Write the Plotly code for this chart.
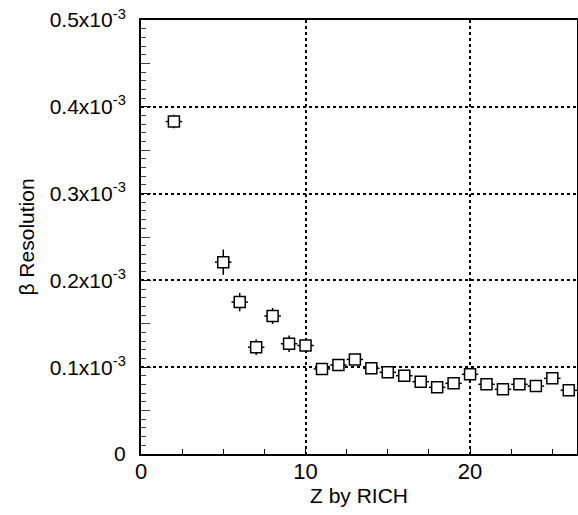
import plotly.graph_objects as go

# Data (beta resolution in units of 1e-3)
z_values = [2, 5, 6, 7, 8, 9, 10, 11, 12, 13, 14, 15, 16, 17, 18, 19, 20, 21, 22, 23, 24, 25, 26]
resolution = [0.383, 0.221, 0.175, 0.123, 0.159, 0.127, 0.125, 0.098, 0.1025, 0.109, 0.0987, 0.0941,
              0.0902, 0.0833, 0.0768, 0.0814, 0.0918, 0.0803, 0.0745, 0.0803, 0.0783, 0.0872, 0.0734]
res_err = [0.0077, 0.0146, 0.0106, 0.009, 0.0092, 0.0096, 0.005, 0.004, 0.005, 0.006, 0.004, 0.004,
           0.004, 0.004, 0.004, 0.004, 0.006, 0.004, 0.004, 0.004, 0.004, 0.004, 0.004]
z_err = [0.5] * len(z_values)

y_tickvals = [0, 0.1, 0.2, 0.3, 0.4, 0.5]
y_ticktext = ["0", "0.1x10<sup>-3</sup>", "0.2x10<sup>-3</sup>", "0.3x10<sup>-3</sup>",
              "0.4x10<sup>-3</sup>", "0.5x10<sup>-3</sup>"]
y_midticks = [0.05, 0.15, 0.25, 0.35, 0.45]
x_tickvals = [0, 10, 20]

FONT = "Liberation Sans, Arial, Helvetica, sans-serif"

fig = go.Figure()
fig.add_trace(go.Scatter(
    x=z_values, y=resolution, mode="markers",
    marker=dict(symbol="square", size=11, color="white", line=dict(color="black", width=1.5)),
    error_y=dict(type="data", array=res_err, color="black", thickness=1.5, width=0),
    error_x=dict(type="data", array=z_err, color="black", thickness=1.5, width=0),
    showlegend=False,
))
# invisible trace to activate secondary y axis (medium ticks)
fig.add_trace(go.Scatter(x=[None], y=[None], yaxis="y2", showlegend=False, hoverinfo="skip"))

fig.update_layout(
    width=578, height=515,
    margin=dict(l=141, r=1, t=20, b=61, autoexpand=False),
    paper_bgcolor="white", plot_bgcolor="white",
    font=dict(family=FONT, size=21, color="black"),
    xaxis=dict(
        range=[0, 26.5], tickvals=x_tickvals, ticktext=[str(v) for v in x_tickvals],
        ticks="inside", ticklen=5, tickwidth=1, tickcolor="black",
        minor=dict(dtick=2.5, tick0=0, ticks="inside", ticklen=5, tickwidth=1, tickcolor="black", showgrid=False),
        showgrid=True, gridcolor="black", griddash="dot", gridwidth=1.5,
        showline=True, linecolor="black", linewidth=2, mirror=True,
        zeroline=False, automargin=False,
        ticklabelstandoff=-3,
        title=dict(text="Z by RICH", standoff=2, font=dict(size=21)),
        tickfont=dict(size=22),
    ),
    yaxis=dict(
        range=[0, 0.5], tickvals=y_tickvals, ticktext=y_ticktext,
        ticks="inside", ticklen=10, tickwidth=1, tickcolor="black",
        minor=dict(dtick=0.01, tick0=0, ticks="inside", ticklen=5, tickwidth=1, tickcolor="#444", showgrid=False),
        showgrid=True, gridcolor="black", griddash="dot", gridwidth=1.5,
        showline=True, linecolor="black", linewidth=2, mirror=True,
        zeroline=False, automargin=False,
        ticklabelstandoff=9,
        title=dict(text="β Resolution", standoff=9, font=dict(size=21)),
        tickfont=dict(size=21),
    ),
    yaxis2=dict(
        range=[0, 0.5], overlaying="y", side="left", anchor="x",
        tickvals=y_midticks, showticklabels=False,
        ticks="inside", ticklen=9, tickwidth=1, tickcolor="#444",
        showgrid=False, zeroline=False, showline=False, automargin=False,
    ),
)

fig.write_html("out.html")
